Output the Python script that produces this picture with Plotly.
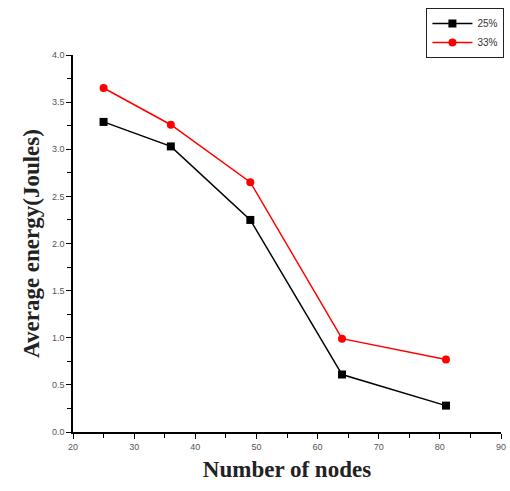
import plotly.graph_objects as go

# Number of nodes and average energy consumed (Joules) per configuration
nodes = [25, 36, 49, 64, 81]
energy_25 = [3.29, 3.03, 2.25, 0.61, 0.28]
energy_33 = [3.65, 3.26, 2.65, 0.99, 0.77]

fig = go.Figure()
fig.add_trace(go.Scatter(
    x=nodes, y=energy_25, name="25%", mode="lines+markers",
    line=dict(color="black", width=1.5),
    marker=dict(symbol="square", size=8, color="black"),
))
fig.add_trace(go.Scatter(
    x=nodes, y=energy_33, name="33%", mode="lines+markers",
    line=dict(color="red", width=1.5),
    marker=dict(symbol="circle", size=8, color="red"),
))

tick_font = dict(family="Liberation Sans, Arial, sans-serif", size=9, color="#555")
title_font = dict(family="Liberation Serif, Times New Roman, serif", size=23, color="#222")

fig.update_layout(
    width=510, height=491,
    margin=dict(l=73, r=4, t=55, b=59),
    paper_bgcolor="white", plot_bgcolor="white",
    showlegend=True,
    legend=dict(
        x=1.008, y=1.125, xanchor="right", yanchor="top",
        bordercolor="#222", borderwidth=1, bgcolor="white",
        font=dict(family="Liberation Sans, Arial, sans-serif", size=10, color="#333"),
        tracegroupgap=0, itemwidth=40,
    ),
    xaxis=dict(
        range=[20, 90], dtick=10, tick0=20,
        showgrid=False, zeroline=False,
        showline=True, linecolor="black", linewidth=1.5,
        ticks="outside", ticklen=5, tickwidth=1.2, tickcolor="black",
        minor=dict(dtick=5, ticks="outside", ticklen=4, tickwidth=1.2,
                   tickcolor="black", showgrid=False),
        tickfont=tick_font,
        title=dict(text="<b>Number of nodes</b>", font=title_font, standoff=10),
    ),
    yaxis=dict(
        range=[0, 4], dtick=0.5, tick0=0, tickformat=".1f",
        showgrid=False, zeroline=False,
        showline=True, linecolor="black", linewidth=1.5,
        ticks="outside", ticklen=5, tickwidth=1.2, tickcolor="black",
        minor=dict(dtick=0.25, ticks="outside", ticklen=4, tickwidth=1.2,
                   tickcolor="black", showgrid=False),
        tickfont=tick_font,
        title=dict(text="<b>Average energy(Joules)</b>", font=title_font, standoff=6),
    ),
)

fig.write_html("out.html")
